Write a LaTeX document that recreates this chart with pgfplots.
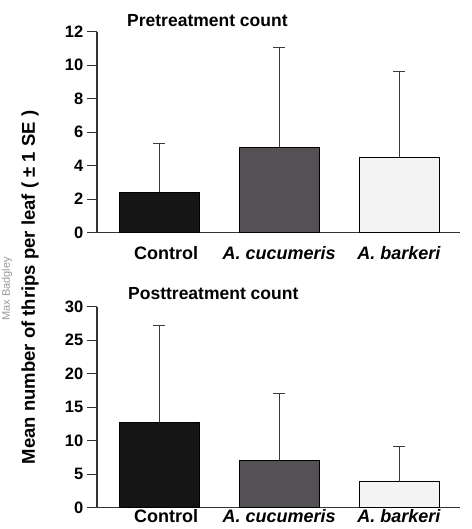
\documentclass[border=0pt]{standalone}
\usepackage{pgfplots}
\pgfplotsset{compat=1.18}
\usepackage{fontspec}
\setmainfont{Liberation Sans}
\definecolor{ctrl}{HTML}{151515}
\definecolor{cucu}{HTML}{545054}
\definecolor{bark}{HTML}{F3F3F3}
\definecolor{axgray}{HTML}{333333}
\definecolor{errgray}{HTML}{3A3A3A}
\pgfplotsset{
  thrips/.style={
    scale only axis, width=363pt, height=201pt,
    anchor=south west,
    xmin=-0.517, xmax=2.508, ymin=0,
    axis x line*=bottom, axis y line*=left,
    axis line style={draw=axgray, line width=1.1pt, -},
    xtick={0,1,2},
    xticklabels={\kern14pt Control, \textit{A. cucumeris}, \textit{A. barkeri}},
    x tick style={draw=none},
    y tick style={draw=axgray, line width=1.1pt},
    tick align=outside, major tick length=9.5pt,
    /pgf/number format/assume math mode=true,
    tick label style={font=\bfseries\fontsize{16.5}{16.5}\selectfont},
    xticklabel style={font=\bfseries\fontsize{18}{18}\selectfont, anchor=base, inner sep=0pt},
    yticklabel style={anchor=east, inner sep=0pt, xshift=-4pt},
    clip=false,
  },
  thbar/.style={ybar, bar shift=0pt, bar width=0.667, draw=black, line width=0.8pt, fill=#1,
    error bars/.cd, y dir=plus, y explicit, error mark=|,
    error bar style={draw=errgray, line width=1pt},
    error mark options={draw=errgray, line width=1pt, mark size=6pt}},
}
\begin{document}
\begin{tikzpicture}[x=1pt,y=1pt]
\path[use as bounding box] (0,0) rectangle (471,529);
% top panel
\begin{axis}[thrips, at={(97pt,296.3pt)}, ymax=12, ytick={0,2,4,6,8,10,12},
  xticklabel style={yshift=-17.1pt}]
\addplot[thbar=ctrl] coordinates {(0,2.41) +- (0,2.93)};
\addplot[thbar=cucu] coordinates {(1,5.10) +- (0,5.97)};
\addplot[thbar=bark] coordinates {(2,4.50) +- (0,5.14)};
\end{axis}
% bottom panel
\begin{axis}[thrips, at={(97pt,21.3pt)}, ymax=30, ytick={0,5,10,15,20,25,30},
  xticklabel style={yshift=-5.6pt}]
\addplot[thbar=ctrl] coordinates {(0,12.74) +- (0,14.52)};
\addplot[thbar=cucu] coordinates {(1,7.11) +- (0,9.95)};
\addplot[thbar=bark] coordinates {(2,3.88) +- (0,5.32)};
\end{axis}
\node[anchor=base west, inner sep=0pt, font=\bfseries\fontsize{17.5}{17.5}\selectfont] at (127,502.3) {Pretreatment count};
\node[anchor=base west, inner sep=0pt, font=\bfseries\fontsize{17.5}{17.5}\selectfont] at (128,229.7) {Posttreatment count};
\node[rotate=90, inner sep=0pt, font=\bfseries\fontsize{18.5}{18.5}\selectfont] at (30,241.5) {Mean number of thrips per leaf ( ± 1 SE )};
\node[rotate=90, inner sep=0pt, text=black!40, font=\fontsize{11}{11}\selectfont] at (7,240) {Max Badgley};
\end{tikzpicture}
\end{document}
